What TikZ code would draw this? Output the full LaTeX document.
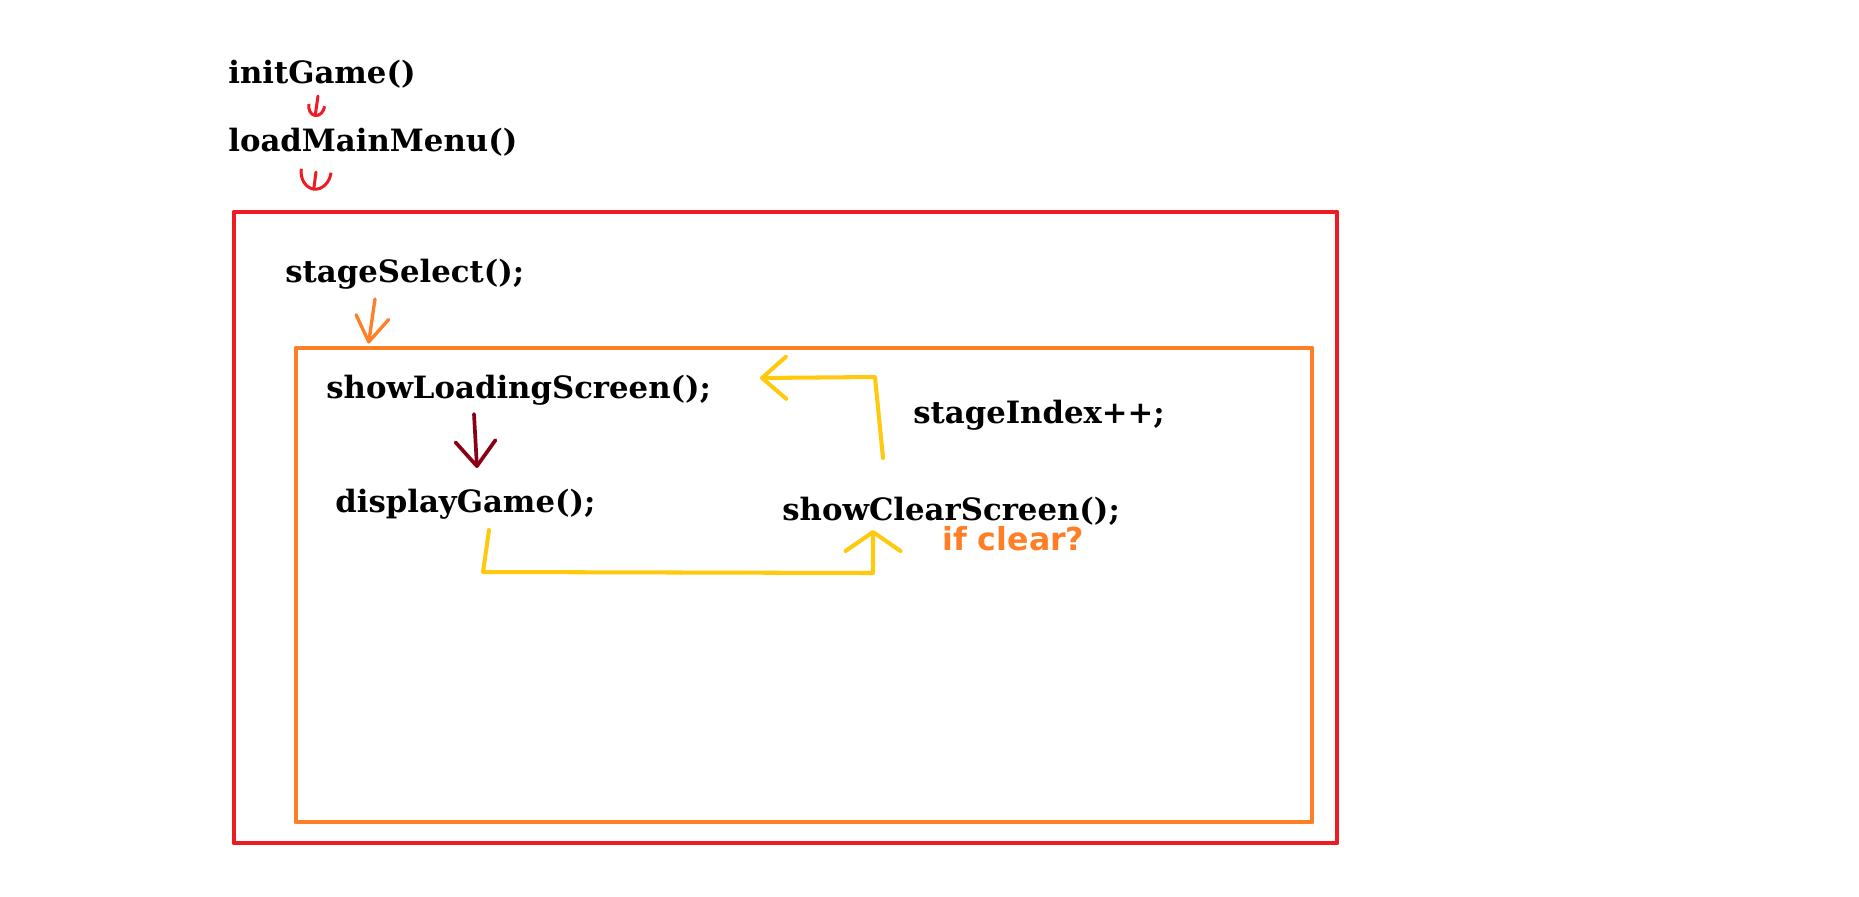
\documentclass[tikz,border=0pt]{standalone}
\usepackage{fontspec}
\setmainfont{DejaVu Serif}
\newfontfamily\notefont{DejaVu Sans}
\usetikzlibrary{arrows.meta,fit}
\definecolor{paintred}{HTML}{ED1C24}
\definecolor{paintorange}{HTML}{FF7F27}
\definecolor{paintyellow}{HTML}{FFC90E}
\definecolor{paintdarkred}{HTML}{880015}
\begin{document}
\begin{tikzpicture}[x=0.02cm,y=-0.02cm,line cap=round,line join=round,
  call/.style={anchor=base west,inner sep=0pt,font=\bfseries\fontsize{17.5}{20}\selectfont},
  frame/.style={inner sep=0pt,line width=2.8pt},
  yellowline/.style={paintyellow,line width=2.3pt}]
\useasboundingbox[fill=white] (0,0) rectangle (1859,896);
% calls
\node[call] (init) at (228,83) {initGame()};
\node[call] (load) at (228,151) {loadMainMenu()};
\node[call] (select) at (285,282) {stageSelect();};
\node[call] (loading) at (326,398) {showLoadingScreen();};
\node[call] (display) at (335,512) {displayGame();};
\node[call] (index) at (913,423) {stageIndex++;};
\node[call] (clear) at (782,520) {showClearScreen();};
\node[call,font=\notefont\bfseries\fontsize{18}{20}\selectfont,text=paintorange] (ifclear) at (942,550) {if clear?};
% frames
\coordinate (s1) at (234,212);
\coordinate (s2) at (1337,843);
\node[frame,draw=paintred,fit=(s1)(s2)] (stagebox) {};
\coordinate (l1) at (296,348);
\coordinate (l2) at (1312,822);
\node[frame,draw=paintorange,fit=(l1)(l2)] (loopbox) {};
% arrows
\draw[paintred,line width=1.7pt,-{Arc Barb[length=0.24cm,width=0.38cm]}] ([shift={(90,13)}]init.base west) -- ([shift={(87,-34)}]load.base west);
\draw[paintred,line width=1.7pt,-{Arc Barb[length=0.4cm,width=0.66cm]}] ([shift={(88,21)}]load.base west) -- ([shift={(82,-19)}]stagebox.north west);
\draw[paintorange,line width=1.9pt,-{Straight Barb[round,length=0.5cm,width=0.66cm]}] ([shift={(90,17)}]select.base west) -- ([shift={(75,-2)}]loopbox.north west);
\draw[paintdarkred,line width=2.1pt,-{Straight Barb[round,length=0.5cm,width=0.8cm]}] ([shift={(148,16)}]loading.base west) -- ([shift={(142,-44)}]display.base west);
\draw[yellowline,-{Straight Barb[round,length=0.48cm,width=0.84cm]}] ([shift={(101,-62)}]clear.base west) -- ([shift={(93,-143)}]clear.base west) -- ([shift={(-22,-142)}]clear.base west);
\draw[yellowline,-{Straight Barb[round,length=0.38cm,width=1.1cm]}] ([shift={(154,18)}]display.base west) -- ([shift={(148,60)}]display.base west) -- ([shift={(91,53)}]clear.base west) -- ([shift={(91,10)}]clear.base west);
\end{tikzpicture}
\end{document}
